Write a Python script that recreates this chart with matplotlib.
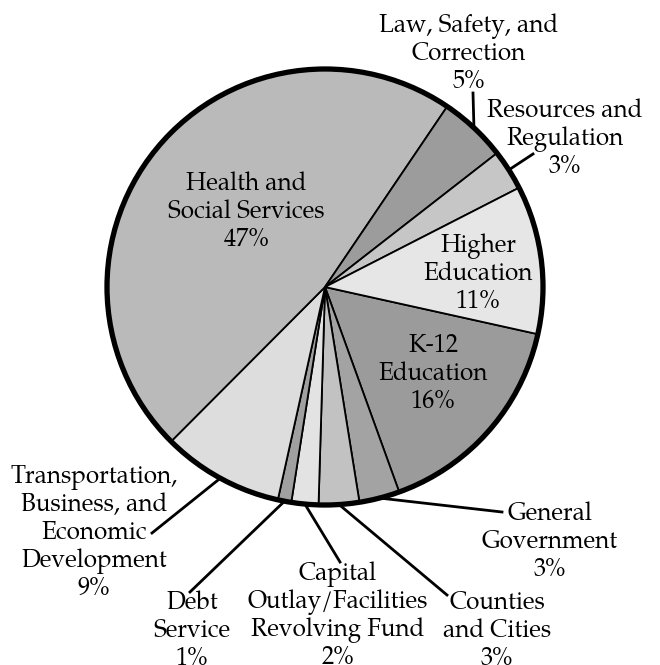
import matplotlib
matplotlib.use("Agg")
import matplotlib.pyplot as plt
from matplotlib import font_manager as fm
from matplotlib.patches import Circle
import numpy as np

# Budget shares, listed clockwise starting from K-12
labels = ["K-12\nEducation", "General\nGovernment", "Counties\nand Cities",
          "Capital\nOutlay/Facilities\nRevolving Fund", "Debt\nService",
          "Transportation,\nBusiness, and\nEconomic\nDevelopment",
          "Health and\nSocial Services", "Law, Safety, and\nCorrection",
          "Resources and\nRegulation", "Higher\nEducation"]
shares = [16, 3, 3, 2, 1, 9, 47, 5, 3, 11]
grays = ["#9b9b9b", "#a3a3a3", "#c2c2c2", "#e3e3e3", "#a0a0a0",
         "#dddddd", "#bababa", "#9c9c9c", "#c6c6c6", "#e6e6e6"]

# label placement in pixel space (x, y from the top) and leader line end (None = inside)
label_pos = [(433, 374), (550, 542), (497, 631), (338, 616), (192, 631),
             (94, 533), (246, 212), (469, 54), (565, 139), (478, 274)]
leader_end = [None, (502, 512), (447, 595), (340, 562), (190, 592),
              (152, 533), None, (473, 93), (533, 154), None]

W, H = 660, 665
cx, cy, R = 325, H - 287, 218
start = -12.5

# prefer a Palatino-style face, fall back to Liberation Serif
serif_faces = ["P052", "TeX Gyre Pagella", "URW Palladio L", "Palatino Linotype",
               "Book Antiqua", "Palatino", "Liberation Serif"]
installed = set(f.name for f in fm.fontManager.ttflist)
face = next(f for f in serif_faces if f in installed)
plt.rcParams['font.family'] = [face, 'DejaVu Serif']
fs = 17.5 if face != "Liberation Serif" else 19

fig = plt.figure(figsize=(W / 100, H / 100), dpi=100)
ax = fig.add_axes([0, 0, 1, 1])
wedges, _ = ax.pie(shares, colors=grays, startangle=start, counterclock=False,
                   center=(cx, cy), radius=R,
                   wedgeprops=dict(edgecolor="black", linewidth=1.3))
ax.add_patch(Circle((cx, cy), R, fill=False, edgecolor="black", linewidth=3.8, zorder=5))

total = float(sum(shares))
angle = start
for lab, s, pos, end in zip(labels, shares, label_pos, leader_end):
    mid = angle - s / total * 360 / 2
    angle -= s / total * 360
    txt = "%s\n%d%%" % (lab, s)
    ax.text(pos[0], H - pos[1], txt, ha="center", va="center", fontsize=fs,
            linespacing=1.12, zorder=6)
    if end is not None:
        a = np.deg2rad(mid)
        x0 = cx + R * np.cos(a)
        y0 = cy + R * np.sin(a)
        ax.plot([x0, end[0]], [y0, H - end[1]], color="black", linewidth=2.0, zorder=4)

ax.set_xlim(0, W)
ax.set_ylim(0, H)
ax.set_aspect("equal")
ax.axis("off")
fig.savefig("out.png", dpi=100, facecolor="white")
